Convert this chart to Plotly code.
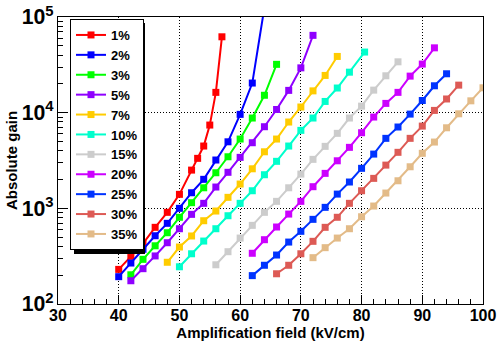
import plotly.graph_objects as go

labels = ["1%", "2%", "3%", "5%", "7%", "10%", "15%", "20%", "25%", "30%", "35%"]
colors = ["#ff0000", "#0000ff", "#00ff00", "#8f00ff", "#ffcc00", "#00ffcc",
          "#cccccc", "#cc00ff", "#0033ff", "#dd5a55", "#e3bb88"]

field_1 = [40, 42, 44, 46, 48, 50, 52, 53, 54, 55, 56, 57]
gain_1 = [230, 315, 427, 633, 908, 1400, 2510, 3330, 4480, 7420, 16300, 62100]

field_2 = [40, 42, 44, 46, 48, 50, 52, 54, 56, 58, 60, 62, 64]
gain_2 = [193, 268, 373, 517, 697, 1000, 1455, 2010, 3200, 4960, 9600, 20400, 126000]

field_3 = [42, 44, 46, 48, 50, 52, 54, 56, 58, 60, 62, 64, 66]
gain_3 = [202, 293, 406, 556, 806, 1146, 1640, 2355, 3460, 5300, 8790, 15200, 32000]

field_5 = [42, 44, 46, 48, 50, 52, 54, 56, 58, 60, 62, 64, 66, 68, 70, 72]
gain_5 = [175, 234, 318, 437, 612, 865, 1128, 1670, 2380, 3410, 4850, 7130, 10800, 17100, 29400, 64300]

field_7 = [48, 50, 52, 54, 56, 58, 60, 62, 64, 66, 68, 70, 72, 74, 76]
gain_7 = [273, 394, 514, 742, 937, 1303, 1795, 2590, 3900, 5300, 7980, 11460, 16900, 24500, 38700]

field_10 = [50, 52, 54, 56, 58, 60, 62, 64, 66, 68, 70, 72, 74, 76, 78, 80.5]
gain_10 = [245, 335, 455, 612, 837, 1128, 1527, 2245, 3100, 4480, 6530, 8790, 13100, 18100, 26500, 43000]

field_15 = [56, 58, 60, 62, 64, 66, 68, 70, 72, 74, 76, 78, 80, 82, 84, 86]
gain_15 = [257, 352, 489, 664, 908, 1183, 1640, 2280, 3250, 4445, 6080, 8790, 11700, 17200, 24300, 34000]

field_20 = [62, 64, 66, 68, 70, 72, 74, 76, 78, 80, 82, 84, 86, 88, 90, 92]
gain_20 = [339, 470, 638, 871, 1183, 1683, 2320, 3140, 4340, 6170, 9000, 12500, 16300, 24100, 32200, 47600]

field_25 = [62, 64, 66, 68, 70, 72, 74, 76, 78, 80, 82, 84, 86, 88, 90, 92, 94]
gain_25 = [198, 254, 325, 444, 575, 767, 1024, 1409, 1884, 2620, 3690, 5390, 7080, 9660, 13400, 19100, 25500]

field_30 = [66, 68, 70, 72, 74, 76, 78, 80, 82, 84, 86, 88, 90, 92, 94, 96]
gain_30 = [207, 254, 335, 452, 633, 806, 1128, 1527, 2057, 2830, 3850, 5390, 7240, 10560, 13900, 19400]

field_35 = [72, 74, 76, 78, 80, 82, 84, 86, 88, 90, 92, 94, 96, 98, 100]
gain_35 = [305, 388, 489, 612, 817, 1057, 1445, 1942, 2720, 3760, 4930, 6950, 9730, 13300, 18200]

fields = [field_1, field_2, field_3, field_5, field_7, field_10, field_15,
          field_20, field_25, field_30, field_35]
gains = [gain_1, gain_2, gain_3, gain_5, gain_7, gain_10, gain_15,
         gain_20, gain_25, gain_30, gain_35]

x_ticks = [30, 40, 50, 60, 70, 80, 90, 100]

FONT = "Liberation Sans"
W, H = 499, 341
ML, MR, MT, MB = 58, 16, 17, 37
PW, PH = W - ML - MR, H - MT - MB


def px_x(p):
    return (p - ML) / PW


def px_y(p):
    return 1 - (p - MT) / PH


fig = go.Figure()
for lab, col, xs, ys in zip(labels, colors, fields, gains):
    fig.add_trace(go.Scatter(
        x=xs, y=ys, name=lab, mode="lines+markers",
        line=dict(color=col, width=2),
        marker=dict(symbol="square", size=7, color=col),
    ))

# legend drop shadow (ROOT style)
fig.add_shape(type="rect", xref="paper", yref="paper",
              x0=px_x(74), x1=px_x(145), y0=px_y(23), y1=px_y(254),
              fillcolor="black", line=dict(width=0), layer="above")

fig.update_layout(
    width=W, height=H,
    margin=dict(l=ML, r=MR, t=MT, b=MB),
    paper_bgcolor="white", plot_bgcolor="white",
    showlegend=True,
    legend=dict(
        x=px_x(70), y=px_y(19), xanchor="left", yanchor="top",
        bgcolor="white", bordercolor="black", borderwidth=1,
        font=dict(family=FONT, size=13, color="black", weight="bold"),
        tracegroupgap=0, itemwidth=30,
    ),
    xaxis=dict(
        range=[30, 100], tickvals=x_ticks, automargin=False,
        ticks="inside", ticklen=9, tickcolor="black", tickwidth=1,
        ticklabelstandoff=-3,
        minor=dict(ticks="inside", ticklen=5, dtick=2, tickcolor="black", showgrid=False),
        showgrid=True, gridcolor="black", griddash="1px,2px", gridwidth=1,
        showline=True, linecolor="black", linewidth=1, mirror=True,
        zeroline=False,
        tickfont=dict(family=FONT, size=16, color="black", weight="bold"),
        title=dict(text="Amplification field (kV/cm)", standoff=0,
                   font=dict(family=FONT, size=15, color="black", weight="bold")),
    ),
    yaxis=dict(
        type="log", range=[2, 5], dtick=1, exponentformat="power", automargin=False,
        ticks="inside", ticklen=9, tickcolor="black", tickwidth=1,
        minor=dict(ticks="inside", ticklen=5, dtick="D1", tickcolor="black", showgrid=False),
        showgrid=True, gridcolor="black", griddash="1px,2px", gridwidth=1,
        showline=True, linecolor="black", linewidth=1, mirror=True,
        zeroline=False,
        tickfont=dict(family=FONT, size=17, color="black", weight="bold"),
        title=dict(text="Absolute gain", standoff=0,
                   font=dict(family=FONT, size=15, color="black", weight="bold")),
    ),
)

fig.write_html("out.html", config={"displayModeBar": False},
               post_script="document.body.style.margin='0px';document.body.style.overflow='hidden';")
